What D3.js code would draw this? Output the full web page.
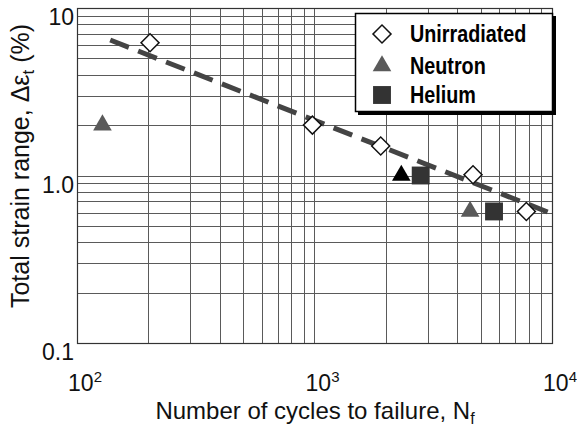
<!DOCTYPE html>
<html><head><meta charset="utf-8">
<script src="https://cdn.jsdelivr.net/npm/d3@7"></script>
<style>body{margin:0;background:#fff}svg{display:block}</style>
</head><body>
<svg id="chart" width="577" height="430"></svg>
<script>
// Data
const unirrN = [203, 980, 1900, 4650, 7800];
const unirrE = [6.2, 2.0, 1.5, 1.01, 0.61];
const neutronN = [128, 4520];
const neutronE = [2.0, 0.61];
const neutronBlackN = [2320];
const neutronBlackE = [1.0];
const heliumN = [2800, 5700];
const heliumE = [1.0, 0.61];
const fitN = [138, 9600];
const fitE = [6.44, 0.605];
const xTickVals = [100, 1000, 10000];
const xTickExp = ["2", "3", "4"];
const yTickVals = [10, 1, 0.1];
const yTickLabels = ["10", "1.0", "0.1"];
const legendLabels = ["Unirradiated", "Neutron", "Helium"];

const svg = d3.select("#chart");
const L = 77, R = 552, T = 8, B = 343;
const x = d3.scaleLog().domain([100, 10000]).range([L, R]);
const y = d3.scaleLog().domain([0.1, 10]).range([B, T]);
const font = "'Liberation Sans', Arial, Helvetica, sans-serif";

// grid
const xGrid = [];
[100, 1000].forEach(d => { for (let k = 2; k <= 9; k++) xGrid.push(d * k); });
xGrid.push(1000);
const yGrid = [];
[0.1, 1].forEach(d => { for (let k = 2; k <= 9; k++) yGrid.push(d * k); });
yGrid.push(1);
const g = svg.append("g");
g.selectAll(".vx").data(xGrid).join("line")
  .attr("x1", d => Math.round(x(d)) + 0.5).attr("x2", d => Math.round(x(d)) + 0.5)
  .attr("y1", T).attr("y2", B).attr("stroke", "#5a5a5a").attr("stroke-width", 1);
g.selectAll(".hy").data(yGrid).join("line")
  .attr("y1", d => Math.round(y(d)) + 0.5).attr("y2", d => Math.round(y(d)) + 0.5)
  .attr("x1", L).attr("x2", R).attr("stroke", "#5a5a5a").attr("stroke-width", 1);
g.append("rect").attr("x", L + 0.5).attr("y", T + 0.5).attr("width", R - L).attr("height", B - T)
  .attr("fill", "none").attr("stroke", "#333").attr("stroke-width", 1.2);

// fit line
svg.append("line")
  .attr("x1", x(fitN[0])).attr("y1", y(fitE[0]))
  .attr("x2", x(fitN[1])).attr("y2", y(fitE[1]))
  .attr("stroke", "#444").attr("stroke-width", 5).attr("stroke-dasharray", "20,10");

// markers
const diamond = d3.symbol().type(d3.symbolSquare).size(162);
const tri = d3.symbol().type(d3.symbolTriangle).size(150);
const sq = d3.symbol().type(d3.symbolSquare).size(320);

svg.selectAll(".un").data(unirrN).join("path")
  .attr("d", diamond)
  .attr("transform", (d, i) => `translate(${x(d)},${y(unirrE[i])}) rotate(45)`)
  .attr("fill", "#fff").attr("stroke", "#111").attr("stroke-width", 1.5);
svg.selectAll(".ne").data(neutronN).join("path")
  .attr("d", tri)
  .attr("transform", (d, i) => `translate(${x(d)},${y(neutronE[i])})`)
  .attr("fill", "#5a5a5a");
svg.selectAll(".nb").data(neutronBlackN).join("path")
  .attr("d", tri)
  .attr("transform", (d, i) => `translate(${x(d)},${y(neutronBlackE[i])})`)
  .attr("fill", "#000");
svg.selectAll(".he").data(heliumN).join("path")
  .attr("d", sq)
  .attr("transform", (d, i) => `translate(${x(d)},${y(heliumE[i])})`)
  .attr("fill", "#333");

// y tick labels
svg.selectAll(".yt").data(yTickVals).join("text")
  .attr("x", 74).attr("y", d => y(d) + 17)
  .attr("text-anchor", "end").attr("font-family", font).attr("font-size", 23)
  .attr("fill", "#111").text((d, i) => yTickLabels[i]);

// x tick labels
const xt = svg.selectAll(".xt").data(xTickVals).join("text")
  .attr("x", d => x(d) + 8).attr("y", 391)
  .attr("text-anchor", "middle").attr("font-family", font).attr("font-size", 23).attr("fill", "#111");
xt.append("tspan").text("10");
xt.append("tspan").attr("dy", -9).attr("font-size", 15).text((d, i) => xTickExp[i]);

// axis titles
const xtitle = svg.append("text").attr("x", 315).attr("y", 419)
  .attr("text-anchor", "middle").attr("font-family", font).attr("font-size", 24).attr("fill", "#111");
xtitle.append("tspan").text("Number of cycles to failure, N");
xtitle.append("tspan").attr("dy", 5).attr("font-size", 16).text("f");

const ytitle = svg.append("text").attr("transform", "translate(29,166) rotate(-90)")
  .attr("text-anchor", "middle").attr("font-family", font).attr("font-size", 25).attr("fill", "#111");
ytitle.append("tspan").text("Total strain range, Δε");
ytitle.append("tspan").attr("dy", 5).attr("font-size", 17).text("t");
ytitle.append("tspan").attr("dy", -5).text(" (%)");

// legend
const lg = svg.append("g");
lg.append("rect").attr("x", 358).attr("y", 16).attr("width", 198).attr("height", 99).attr("fill", "#000");
lg.append("rect").attr("x", 355.5).attr("y", 13.5).attr("width", 197).attr("height", 98)
  .attr("fill", "#fff").attr("stroke", "#000").attr("stroke-width", 1.5);
const legY = [34, 66, 95];
const legSym = [
  s => s.attr("d", diamond).attr("transform", `translate(382,${legY[0]}) rotate(45)`).attr("fill", "#fff").attr("stroke", "#111").attr("stroke-width", 1.5),
  s => s.attr("d", tri).attr("transform", `translate(382,${legY[1]})`).attr("fill", "#5a5a5a"),
  s => s.attr("d", sq).attr("transform", `translate(382,${legY[2]})`).attr("fill", "#333")
];
legendLabels.forEach((lab, i) => {
  legSym[i](lg.append("path"));
  lg.append("text").attr("transform", `translate(410,${legY[i] + 8}) scale(0.86,1)`)
    .attr("font-family", font)
    .attr("font-weight", "bold").attr("font-size", 23).attr("fill", "#000").text(lab);
});
</script>
</body></html>
